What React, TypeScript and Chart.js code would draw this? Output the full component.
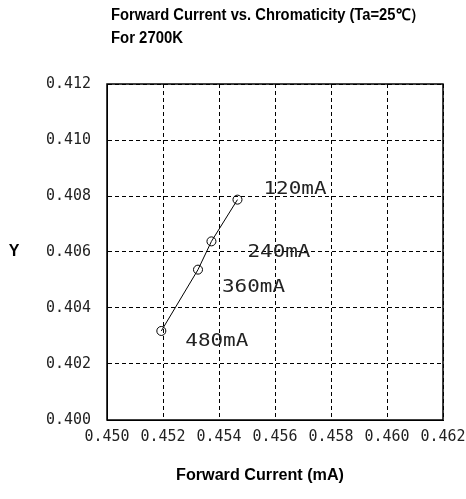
import React, { useEffect, useRef } from "react";
import { Chart, registerables } from "chart.js";

Chart.register(...registerables);

// ---- data ----
const currentLabels = ["120mA", "240mA", "360mA", "480mA"];
const xValues = [0.45466, 0.45373, 0.45325, 0.45194];
const yValues = [0.40787, 0.40638, 0.40537, 0.40318];

const xTicks = [0.45, 0.452, 0.454, 0.456, 0.458, 0.46, 0.462];
const xTickLabels = ["0.450", "0.452", "0.454", "0.456", "0.458", "0.460", "0.462"];
const yTicks = [0.4, 0.402, 0.404, 0.406, 0.408, 0.41, 0.412];
const yTickLabels = ["0.400", "0.402", "0.404", "0.406", "0.408", "0.410", "0.412"];

const titleLines = ["Forward Current vs. Chromaticity (Ta=25℃）", "For 2700K"];
const xAxisTitle = "Forward Current (mA)";
const yAxisTitle = "Y";

// ---- layout / style (not data) ----
const W = 466;
const H = 499;
const labelOffsets = [
  { dx: 26, dy: -10 },
  { dx: 36, dy: 11 },
  { dx: 24, dy: 18 },
  { dx: 24, dy: 11 },
];
const BOLD = "bold 16px 'Liberation Sans Narrow', 'Arial Narrow', 'Liberation Sans', sans-serif";
const MONO = "15px 'DejaVu Sans Mono', 'Liberation Mono', monospace";
const MONO_BIG = "17px 'DejaVu Sans Mono', 'Liberation Mono', monospace";

function drawFit(
  ctx: CanvasRenderingContext2D,
  text: string,
  x: number,
  y: number,
  font: string,
  width: number | null,
  align: CanvasTextAlign,
  color = "#000"
) {
  ctx.save();
  ctx.font = font;
  const w = ctx.measureText(text).width;
  const s = width ? width / w : 1;
  ctx.translate(x, y);
  ctx.scale(s, 1);
  ctx.textAlign = align;
  ctx.textBaseline = "middle";
  ctx.fillStyle = color;
  ctx.fillText(text, 0, 0);
  ctx.restore();
}

const textPlugin = {
  id: "textPlugin",
  afterDraw(chart: any) {
    const ctx: CanvasRenderingContext2D = chart.ctx;
    const { left, right, top, bottom } = chart.chartArea;
    const xs = chart.scales.x;
    const ys = chart.scales.y;

    // frame
    ctx.save();
    ctx.strokeStyle = "#000";
    ctx.lineWidth = 1.5;
    ctx.strokeRect(left, top, right - left, bottom - top);
    ctx.restore();

    // titles
    drawFit(ctx, titleLines[0], 111, 16, BOLD, 314, "left");
    drawFit(ctx, titleLines[1], 111, 39, BOLD, 72, "left");
    drawFit(ctx, xAxisTitle, 260, 476, BOLD, 168, "center");
    drawFit(ctx, yAxisTitle, 14, 252, BOLD, null, "center");

    // tick labels
    yTicks.forEach((v, i) => {
      drawFit(ctx, yTickLabels[i], left - 16, ys.getPixelForValue(v), MONO, 45, "right", "#222");
    });
    xTicks.forEach((v, i) => {
      drawFit(ctx, xTickLabels[i], xs.getPixelForValue(v), bottom + 17, MONO, 45, "center", "#222");
    });

    // point labels
    currentLabels.forEach((t, i) => {
      const px = xs.getPixelForValue(xValues[i]);
      const py = ys.getPixelForValue(yValues[i]);
      drawFit(ctx, t, px + labelOffsets[i].dx, py + labelOffsets[i].dy, MONO_BIG, 63, "left", "#222");
    });
  },
};

export default function App() {
  const ref = useRef<HTMLCanvasElement | null>(null);

  useEffect(() => {
    if (!ref.current) return;
    const chart = new Chart(ref.current, {
      type: "scatter",
      data: {
        datasets: [
          {
            data: xValues.map((x, i) => ({ x, y: yValues[i] })),
            showLine: true,
            borderColor: "#000",
            borderWidth: 1,
            pointRadius: 4.5,
            pointBorderColor: "#000",
            pointBackgroundColor: "rgba(0,0,0,0)",
            pointBorderWidth: 1,
          },
        ],
      },
      options: {
        animation: false,
        responsive: false,
        devicePixelRatio: 1,
        layout: { padding: { left: 107, top: 84, right: 23, bottom: 79 } },
        plugins: { legend: { display: false }, tooltip: { enabled: false } },
        scales: {
          x: {
            type: "linear",
            min: xTicks[0],
            max: xTicks[xTicks.length - 1],
            afterBuildTicks: (s: any) => {
              s.ticks = xTicks.map((v) => ({ value: v }));
            },
            ticks: { display: false },
            grid: { color: "#000", lineWidth: 1, drawTicks: false },
            border: { display: true, color: "#000", width: 1, dash: [4, 3] },
          },
          y: {
            type: "linear",
            min: yTicks[0],
            max: yTicks[yTicks.length - 1],
            afterBuildTicks: (s: any) => {
              s.ticks = yTicks.map((v) => ({ value: v }));
            },
            ticks: { display: false },
            grid: { color: "#000", lineWidth: 1, drawTicks: false },
            border: { display: true, color: "#000", width: 1, dash: [4, 3] },
          },
        },
      },
      plugins: [textPlugin],
    });
    return () => chart.destroy();
  }, []);

  return (
    <div style={{ position: "fixed", left: 0, top: 0, width: W, height: H, background: "#fff" }}>
      <canvas ref={ref} width={W} height={H} style={{ width: W, height: H, display: "block" }} />
    </div>
  );
}
